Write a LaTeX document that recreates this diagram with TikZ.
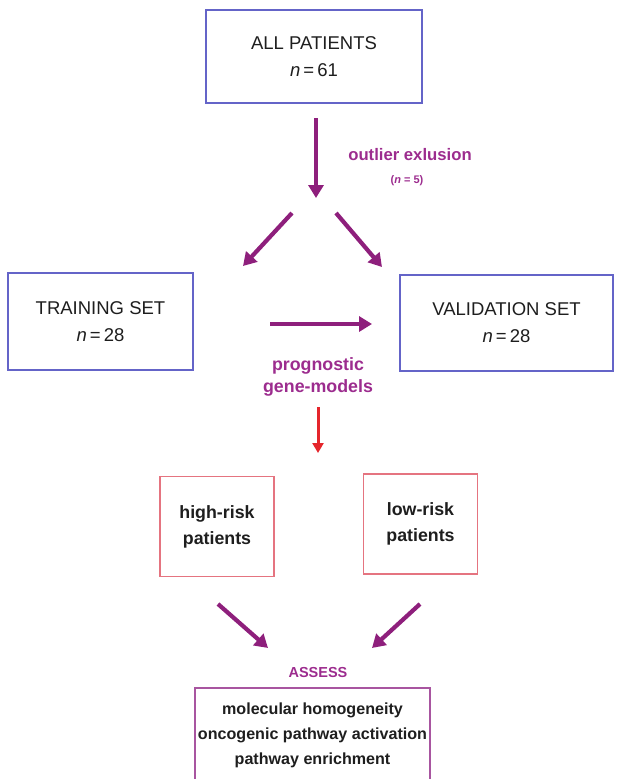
\documentclass[tikz,border=0pt]{standalone}
\usepackage{fontspec}
\setmainfont{Liberation Sans}
\usepackage{tikz}
\usetikzlibrary{arrows.meta, positioning}
\definecolor{BoxBlue}  {HTML}{6464C8}
\definecolor{BoxRed}   {HTML}{E57480}
\definecolor{ArrPurple}{HTML}{8E1F7C}
\definecolor{LblPurple}{HTML}{9C2C8E}
\definecolor{BoxPurple}{HTML}{A855A0}
\definecolor{ArrRed}   {HTML}{E5262C}
\definecolor{TxtGray}  {HTML}{1E1E1E}
\newcommand{\nn}{\textit{n}}

\begin{document}
\begin{tikzpicture}[
  x=1pt, y=-1pt,
  bbox/.style  = {draw=BoxBlue, line width=1.4pt, align=center, text=TxtGray,
                  font=\fontsize{18.5}{27}\selectfont},
  rbox/.style  = {draw=BoxRed, line width=1.4pt, align=center, text=TxtGray,
                  minimum width=114pt, minimum height=100pt,
                  font=\bfseries\fontsize{17.8}{26}\selectfont},
  abox/.style  = {draw=BoxPurple, line width=1.6pt, align=center, text=TxtGray,
                  anchor=north, minimum width=235pt, inner xsep=0pt, inner ysep=15pt,
                  font=\bfseries\fontsize{16.1}{25}\selectfont},
  arr/.style   = {-{Triangle[length=13pt, width=15pt]}, line width=4.2pt, ArrPurple},
  rarr/.style  = {-{Triangle[length=10pt, width=11pt]}, line width=3pt, ArrRed},
  lbl/.style   = {text=LblPurple, font=\bfseries\fontsize{16.7}{19}\selectfont, align=center},
]
\clip (0,0) rectangle (619,779);
\node[bbox, minimum width=216pt, minimum height=93pt] (all)   at (314,56.5)
  {ALL PATIENTS\\\nn\,=\,61};
\node[bbox, minimum width=185pt, minimum height=97pt] (train) at (100.5,321.5)
  {TRAINING SET\\\nn\,=\,28};
\node[bbox, minimum width=213pt, minimum height=96pt] (valid) at (506.5,323)
  {VALIDATION SET\\\nn\,=\,28};
\node[rbox] (high) at (217,526.5) {high-risk\\patients};
\node[rbox] (low)  at (420.5,524) {low-risk\\patients};
\node[abox] (assess) at (312.5,687)
  {molecular homogeneity\\oncogenic pathway activation\\pathway enrichment};

\node[lbl] (outlier) at (410,155) {outlier exlusion};
\node[lbl, font=\bfseries\fontsize{11}{13}\selectfont] (excl) at (407,181) {(\nn\ = 5)};
\node[lbl, font=\bfseries\fontsize{17.8}{22}\selectfont] (prog) at (318,377) {prognostic\\gene-models};
\node[lbl, font=\bfseries\fontsize{14.5}{17}\selectfont] (asslbl) at (318,673) {ASSESS};

\coordinate (s1) at (316,118);   \coordinate (s2) at (316,198);
\coordinate (l1) at (292,213);   \coordinate (l2) at (243,266);
\coordinate (r1) at (336,213);   \coordinate (r2) at (382,267);
\coordinate (h1) at (270,324);   \coordinate (h2) at (372,324);
\coordinate (p1) at (318,407);   \coordinate (p2) at (318,453);
\coordinate (b1) at (218,604);   \coordinate (b2) at (268,648);
\coordinate (c1) at (420,604);   \coordinate (c2) at (372,648);

\draw[arr]  (s1) -- (s2);
\draw[arr]  (l1) -- (l2);
\draw[arr]  (r1) -- (r2);
\draw[arr]  (h1) -- (h2);
\draw[rarr] (p1) -- (p2);
\draw[arr]  (b1) -- (b2);
\draw[arr]  (c1) -- (c2);
\end{tikzpicture}
\end{document}
